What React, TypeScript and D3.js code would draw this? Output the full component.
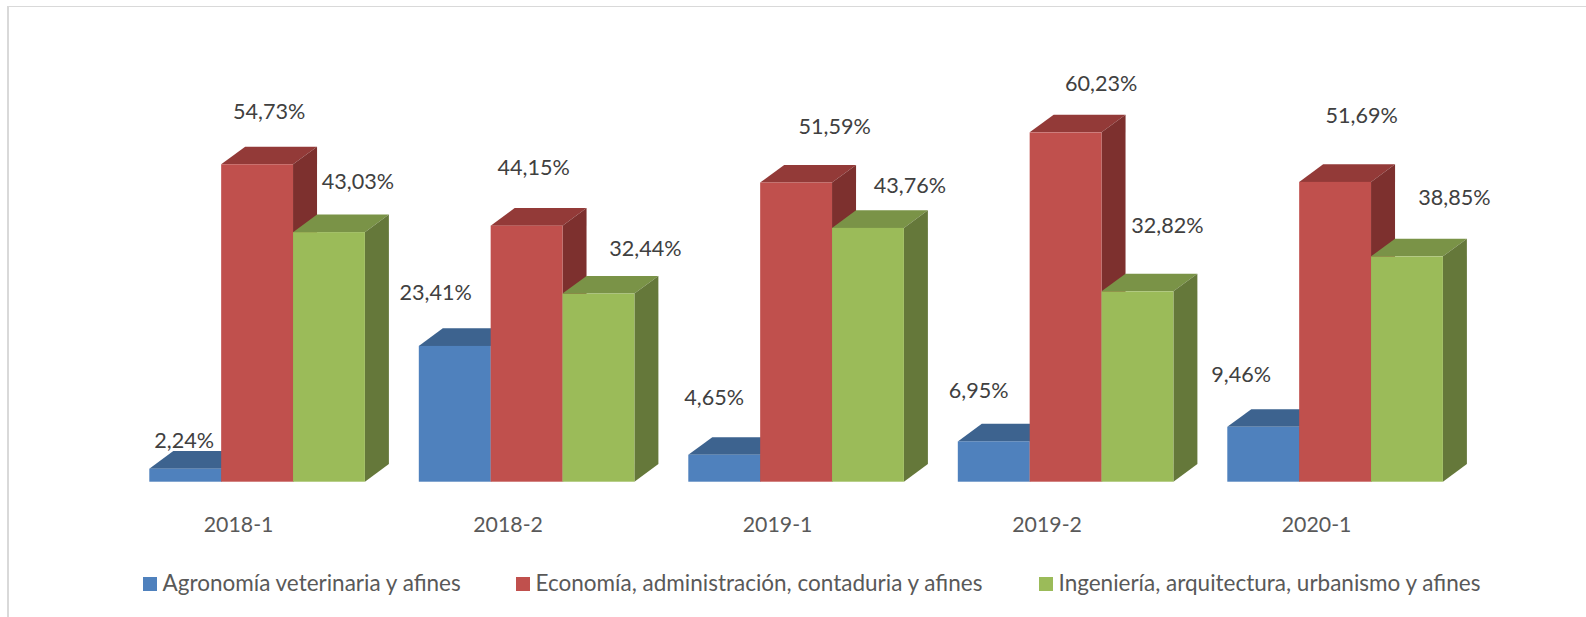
import React from "react";
import * as d3 from "d3";

const categories = ["2018-1", "2018-2", "2019-1", "2019-2", "2020-1"];
const seriesNames = [
  "Agronomía veterinaria y afines",
  "Economía, administración, contaduria y afines",
  "Ingeniería, arquitectura, urbanismo y afines",
];
const agronomia = [2.24, 23.41, 4.65, 6.95, 9.46];
const economia = [54.73, 44.15, 51.59, 60.23, 51.69];
const ingenieria = [43.03, 32.44, 43.76, 32.82, 38.85];
const seriesValues = [agronomia, economia, ingenieria];

const faces = [
  { front: "#4F81BD", top: "#3D638F", side: "#335377" },
  { front: "#C0504D", top: "#933A38", side: "#7D302E" },
  { front: "#9BBB59", top: "#7A9347", side: "#65783A" },
];

// hand-placed label nudges, relative to the top centre of each bar's front face
const labelNudge = [
  [[-1, -28.4], [-19, -53.3], [-10, -56.9], [-15, -50.5], [-22, -52.4]],
  [[12, -53.1], [7, -57.7], [38.5, -55.9], [35.5, -49.2], [26.5, -66.8]],
  [[29, -50.2], [47, -44.7], [42, -42.9], [30, -66], [47.5, -58.5]],
];

const W = 1586;
const H = 617;
const FONT = "Lato, 'Open Sans', sans-serif";
const DX = 24;
const DY = 17.6;

export default function App() {
  const x0 = d3.scaleBand<string>().domain(categories).range([149.3, 149.3 + 5 * 269.5 - 53.9]).paddingInner(0.2).paddingOuter(0);
  const x1 = d3.scaleBand<number>().domain([0, 1, 2]).range([0, x0.bandwidth()]);
  const y = d3.scaleLinear().domain([0, 60]).range([481.7, 481.7 - 60 * 5.8]);
  const bw = x1.bandwidth();

  return (
    <svg width={W} height={H} style={{ position: "fixed", left: 0, top: 0, background: "#fff" }} fontFamily={FONT}>
      <rect width={W} height={H} fill="#fff" />
      <line x1={7} x2={W} y1={6.5} y2={6.5} stroke="#D9D9D9" strokeWidth={1.2} />
      <line x1={8} x2={8} y1={6} y2={H} stroke="#D9D9D9" strokeWidth={2} />
      {categories.map((c, i) => (
        <g key={c}>
          {seriesValues.map((vals, s) => {
            const l = x0(c)! + x1(s)!;
            const r = l + bw;
            const t = y(vals[i]);
            const b = y(0);
            const f = faces[s];
            return (
              <g key={s}>
                <path d={`M${l},${t}L${l + DX},${t - DY}L${r + DX},${t - DY}L${r},${t}Z`} fill={f.top} />
                <path d={`M${r},${t}L${r + DX},${t - DY}L${r + DX},${b - DY}L${r},${b}Z`} fill={f.side} />
                <rect x={l} y={t} width={bw} height={b - t} fill={f.front} />
              </g>
            );
          })}
        </g>
      ))}
      {categories.map((c, i) => (
        <g key={c}>
          {seriesValues.map((vals, s) => (
            <text
              key={s}
              x={x0(c)! + x1(s)! + bw / 2 + labelNudge[s][i][0]}
              y={y(vals[i]) + labelNudge[s][i][1]}
              dy="0.35em"
              textAnchor="middle"
              fontSize={21.6}
              fill="#404040"
            >
              {vals[i].toFixed(2).replace(".", ",") + "%"}
            </text>
          ))}
          <text x={x0(c)! + x0.bandwidth() / 2 - 18.5} y={525} dy="0.35em" textAnchor="middle" fontSize={21.3} fill="#595959">
            {c}
          </text>
        </g>
      ))}
      {seriesNames.map((n, s) => {
        const lx = [143, 516, 1039][s];
        return (
          <g key={n}>
            <rect x={lx} y={577} width={14} height={14} fill={faces[s].front} />
            <text x={lx + 19.5} y={591} fontSize={22.5} fill="#595959">
              {n}
            </text>
          </g>
        );
      })}
    </svg>
  );
}
